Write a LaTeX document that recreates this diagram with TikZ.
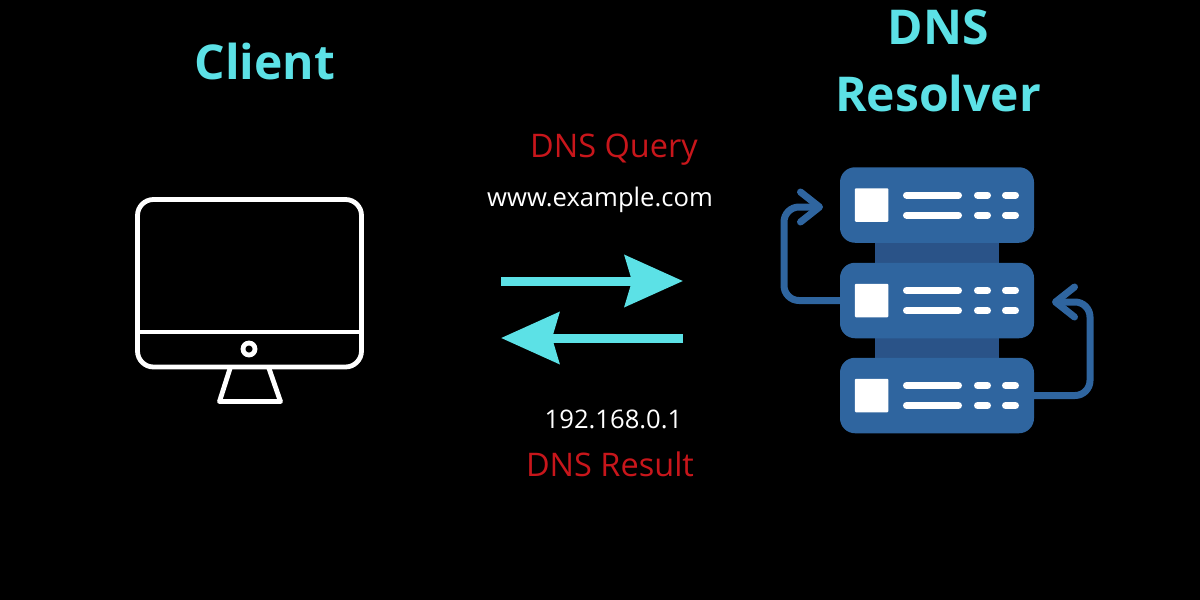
\documentclass[tikz,border=0pt]{standalone}
\usepackage{fontspec}
\setmainfont{Open Sans}
\usetikzlibrary{arrows.meta,positioning}

\begin{document}
\begin{tikzpicture}[
    x=1pt, y=-1pt,
    heading/.style={inner sep=0pt, text=headcyan, font=\fontsize{48}{52}\selectfont\bfseries},
    redlabel/.style={inner sep=0pt, text=labelred, font=\fontsize{32.5}{38}\selectfont},
    whitelabel/.style={inner sep=0pt, text=white, font=\fontsize{25.6}{30}\selectfont},
    flow/.style={draw=headcyan, line width=9pt, -{Stealth[length=58pt,width=51pt,inset=7pt]}},
    screen/.style={draw=white, line width=4.8pt},
    rack/.style={rectangle, rounded corners=15pt, minimum width=194pt, minimum height=75.5pt,
                 inner sep=0pt, fill=rackblue},
    rackjoin/.style={rectangle, minimum width=124pt, minimum height=24pt, inner sep=0pt, fill=rackdark},
    rackled/.style={rectangle, rounded corners=1pt, minimum size=33.5pt, inner sep=0pt, fill=white},
    rackbar/.style={draw=white, line width=7pt, line cap=round},
    loop/.style={draw=rackblue, line width=7pt, rounded corners=15pt,
                 -{Straight Barb[length=19pt,width=30pt,round]}}
]
    \definecolor{headcyan}{HTML}{5CE1E6}
    \definecolor{labelred}{HTML}{C8161B}
    \definecolor{rackblue}{HTML}{2F659F}
    \definecolor{rackdark}{HTML}{2A5388}

    % Background
    \fill[black] (0,0) rectangle (1200,600);
    \useasboundingbox (0,0) rectangle (1200,600);

    % Headings
    \node (client) [heading] at (265,61) {Client};
    \node (dnsword) [heading] at (938,27) {DNS};
    \node (resolver) [heading] at (938,93.5) {Resolver};

    % Labels
    \node (query) [redlabel] at (614,149.5) {DNS Query};
    \node (domain) [whitelabel] at (600,200) {www.example.com};
    \node (address) [whitelabel] at (613.5,419) {192.168.0.1};
    \node (result) [redlabel] at (610,464) {DNS Result};

    % Monitor
    \draw [screen, rounded corners=16pt] (137.5,199.5) rectangle (361.5,367);
    \draw [screen] (137.5,332) -- (361.5,332);
    \draw [screen] (249,349) circle (6);
    \draw [screen, line join=round] (230.5,367) -- (219.5,401.5) -- (280.5,401.5) -- (268.5,367);

    % Flow arrows
    \coordinate (querytail) at (501,281);
    \coordinate (queryhead) at (683,281);
    \coordinate (resulttail) at (683,338);
    \coordinate (resulthead) at (501,338);
    \draw [flow] (querytail) -- (queryhead);
    \draw [flow] (resulttail) -- (resulthead);

    % Server rack
    \node (joinupper) [rackjoin] at (937,253) {};
    \node (joinlower) [rackjoin] at (937,348) {};
    \foreach \rackname/\racky in {racktop/205, rackmid/300.5, rackbot/395.5} {
        \node (\rackname) [rack] at (937,\racky) {};
        \node (\rackname led) [rackled] at (871.5,\racky) {};
        \draw [rackbar] (906.5,\racky-10) -- (958.5,\racky-10);
        \draw [rackbar] (906.5,\racky+10) -- (958.5,\racky+10);
        \draw [rackbar] (977.5,\racky-10) -- (987.5,\racky-10);
        \draw [rackbar] (977.5,\racky+10) -- (987.5,\racky+10);
        \draw [rackbar] (1005.5,\racky-10) -- (1015.5,\racky-10);
        \draw [rackbar] (1005.5,\racky+10) -- (1015.5,\racky+10);
    }

    % Loops between racks
    \coordinate (toploop) at (823,207);
    \coordinate (midloop) at (1052,302);
    \draw [loop] (rackmid.west) -- (784,300.5) |- (toploop);
    \draw [loop] (rackbot.east) -- (1090,395.5) |- (midloop);

\end{tikzpicture}
\end{document}
